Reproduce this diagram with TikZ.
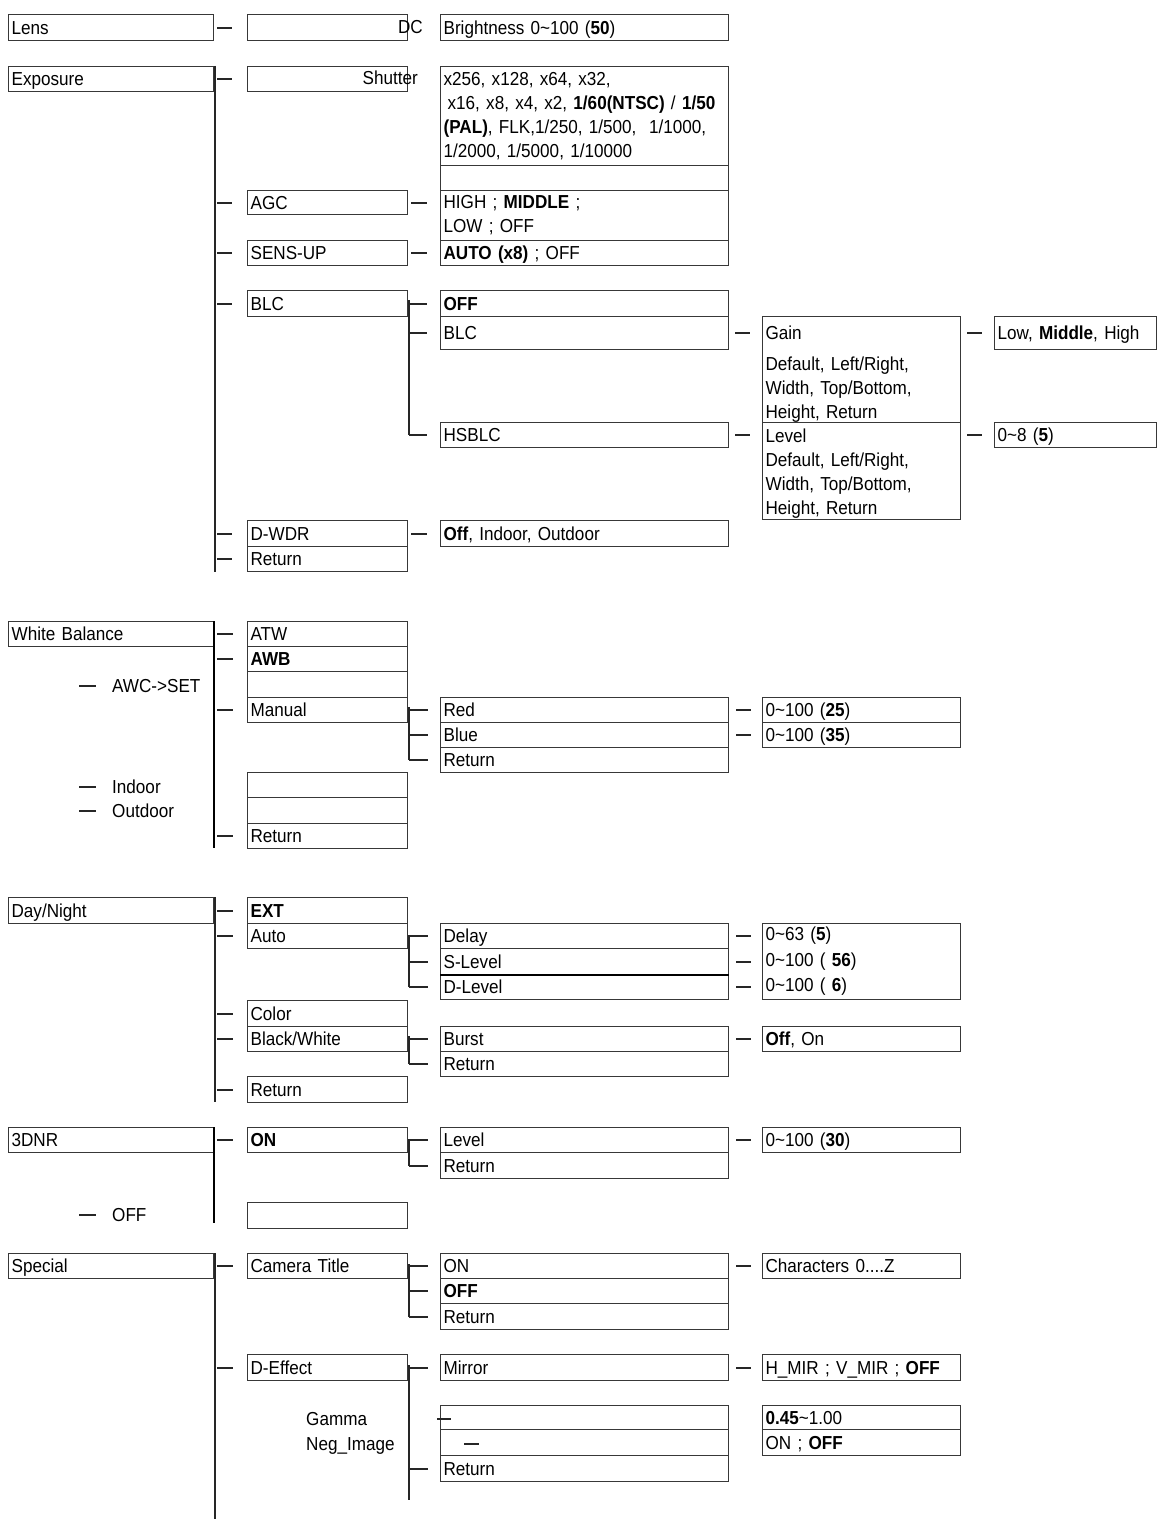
\documentclass[tikz,border=0pt]{standalone}
\usepackage{fontspec}
\setmainfont[FakeStretch=0.91,WordSpace=0.91]{Liberation Sans}
\usetikzlibrary{calc}
\newcommand\fs{\fontsize{18.8}{24}\selectfont}
\tikzset{
  bxs/.style={draw=black!78, line width=1.2pt, inner xsep=3pt, inner ysep=0pt,
    anchor=north west, align=left, font=\fs, text=black},
  one/.style={text height=16.5pt, text depth=3pt},
  ln/.style={draw=black!85, line width=2pt},
  thk/.style={draw=black, line width=2.8pt},
  trk/.style={draw=black!85, line width=1.5pt},
  lbl/.style={inner sep=0pt, font=\fs, text height=16.5pt, text depth=3pt},
}
% single-line box: name, x, y, w, h, text
\newcommand\bx[6]{\node[bxs, one, minimum width=#4pt, minimum height=#5pt,
  text width=\dimexpr#4pt-6pt\relax] (#1) at (#2,#3) {#6};}
% multi-line box
\newcommand\mbx[6]{\node[bxs, minimum width=#4pt, minimum height=#5pt,
  text width=\dimexpr#4pt-6pt\relax] (#1) at (#2,#3) {#6};}
% stub: x1, x2, node giving the y
\newcommand\stubx[3]{\draw[ln] (#1,0 |- #3.west) -- (#2,0 |- #3.west);}
\begin{document}
\begin{tikzpicture}[x=1pt,y=-1pt]
\useasboundingbox[fill=white] (0,0) rectangle (1162,1520);

% ---------------- Lens
\bx{lens}{8}{14}{205}{26}{Lens}
\bx{lensB}{247}{14}{160}{26}{}
\node[lbl,anchor=east] (dc) at (423,27) {DC};
\bx{lensC}{440}{14}{288}{26}{Brightness 0\textasciitilde100 (\textbf{50})}
\stubx{217}{232}{lensB}

% ---------------- Exposure
\bx{expo}{8}{66}{205}{25}{Exposure}
\coordinate (expoEnd) at (215,572);
\draw[trk] (expo.north east -| expoEnd) -- (expoEnd);
\bx{shutB}{247}{66}{160}{25}{}
\node[lbl,anchor=east] (shutT) at (418,78) {Shutter};
\mbx{shutC}{440}{66}{288}{99}{x256, x128, x64, x32,\\\hspace*{4pt}x16, x8, x4, x2, \textbf{1/60(NTSC)} / \textbf{1/50}\\\textbf{(PAL)}, FLK,1/250, 1/500,\ \ 1/1000,\\1/2000, 1/5000, 1/10000}
\bx{shutE}{440}{165}{288}{25}{}
\bx{agcB}{247}{190}{160}{24}{AGC}
\mbx{agcC}{440}{190}{288}{50}{HIGH ; \textbf{MIDDLE} ;\\LOW ; OFF}
\bx{sensB}{247}{240}{160}{25}{SENS-UP}
\bx{sensC}{440}{240}{288}{25}{\textbf{AUTO (x8)} ; OFF}
\stubx{217}{232}{shutB}
\stubx{217}{232}{agcB}
\stubx{217}{232}{sensB}
\stubx{411}{427}{agcB}
\stubx{411}{427}{sensB}

% BLC
\bx{blcB}{247}{290}{160}{26}{BLC}
\bx{offC}{440}{290}{288}{26}{\textbf{OFF}}
\bx{blcC}{440}{316}{288}{33}{BLC}
\bx{hsC}{440}{422}{288}{25}{HSBLC}
\coordinate (blcT) at (409,300);
\draw[trk] (blcT) -- (blcT |- hsC.west);
\stubx{217}{232}{blcB}
\stubx{409}{427}{offC}
\stubx{409}{427}{blcC}
\stubx{409}{427}{hsC}
\mbx{gainD}{762}{316}{198}{106}{\rule{0pt}{23pt}Gain\\[7pt]Default, Left/Right,\\Width, Top/Bottom,\\Height, Return}
\mbx{levD}{762}{422}{198}{97}{\rule{0pt}{19pt}Level\\Default, Left/Right,\\Width, Top/Bottom,\\Height, Return}
\bx{gainE}{994}{316}{162}{33}{Low, \textbf{Middle}, High}
\bx{levE}{994}{422}{162}{25}{0\textasciitilde8 (\textbf{5})}
\stubx{735}{750}{blcC}
\stubx{735}{750}{hsC}
\stubx{967}{982}{gainE}
\stubx{967}{982}{levE}

% D-WDR
\bx{dwdrB}{247}{520}{160}{26}{D-WDR}
\bx{expRet}{247}{546}{160}{25}{Return}
\bx{dwdrC}{440}{520}{288}{26}{\textbf{Off}, Indoor, Outdoor}
\stubx{217}{232}{dwdrB}
\stubx{217}{232}{expRet}
\stubx{411}{427}{dwdrB}

% ---------------- White Balance
\bx{wb}{8}{621}{205}{25}{White Balance}
\coordinate (wbEnd) at (214,848);
\draw[thk] (wb.north east -| wbEnd) -- (wbEnd);
\bx{atw}{247}{621}{160}{25}{ATW}
\bx{awb}{247}{646}{160}{25}{\textbf{AWB}}
\bx{wbE1}{247}{671}{160}{26}{}
\bx{manual}{247}{697}{160}{25}{Manual}
\bx{wbE2}{247}{772}{160}{25}{}
\bx{wbE3}{247}{797}{160}{26}{}
\bx{wbRet}{247}{823}{160}{25}{Return}
\stubx{217}{233}{atw}
\stubx{217}{233}{awb}
\stubx{217}{233}{manual}
\stubx{217}{233}{wbRet}
\node[lbl,anchor=west] (awc) at (112,686) {AWC->SET};
\node[lbl,anchor=west] (indoor) at (112,787) {Indoor};
\node[lbl,anchor=west] (outdoor) at (112,811) {Outdoor};
\draw[ln] ([xshift=-33pt]awc.west) -- ([xshift=-16pt]awc.west);
\draw[ln] ([xshift=-33pt]indoor.west) -- ([xshift=-16pt]indoor.west);
\draw[ln] ([xshift=-33pt]outdoor.west) -- ([xshift=-16pt]outdoor.west);
\bx{red}{440}{697}{288}{25}{Red}
\bx{blue}{440}{722}{288}{25}{Blue}
\bx{wbRetC}{440}{747}{288}{25}{Return}
\coordinate (manT) at (409,707);
\draw[trk] (manT) -- (manT |- wbRetC.west);
\stubx{409}{428}{red}
\stubx{409}{428}{blue}
\stubx{409}{428}{wbRetC}
\bx{redD}{762}{697}{198}{25}{0\textasciitilde100 (\textbf{25})}
\bx{blueD}{762}{722}{198}{25}{0\textasciitilde100 (\textbf{35})}
\stubx{736}{751}{red}
\stubx{736}{751}{blue}

% ---------------- Day/Night
\bx{dn}{8}{897}{205}{26}{Day/Night}
\coordinate (dnEnd) at (215,1102);
\draw[trk] (dn.north east -| dnEnd) -- (dnEnd);
\bx{ext}{247}{897}{160}{26}{\textbf{EXT}}
\bx{auto}{247}{923}{160}{25}{Auto}
\bx{color}{247}{1000}{160}{26}{Color}
\bx{bw}{247}{1026}{160}{25}{Black/White}
\bx{dnRet}{247}{1076}{160}{26}{Return}
\stubx{217}{233}{ext}
\stubx{217}{233}{auto}
\stubx{217}{233}{color}
\stubx{217}{233}{bw}
\stubx{217}{233}{dnRet}
\bx{delay}{440}{923}{288}{25}{Delay}
\bx{slev}{440}{948}{288}{26}{S-Level}
\bx{dlev}{440}{974}{288}{25}{D-Level}
\draw[line width=2.4pt] (slev.south west) -- (slev.south east);
\coordinate (autoT) at (409,935);
\draw[trk] (autoT) -- (autoT |- dlev.west);
\stubx{409}{428}{delay}
\stubx{409}{428}{slev}
\stubx{409}{428}{dlev}
\node[bxs, minimum width=198pt, minimum height=76pt, text width=192pt,
  font=\fontsize{18.8}{25.5}\selectfont] (dnD) at (762,923)
  {0\textasciitilde63 (\textbf{5})\\0\textasciitilde100 ( \textbf{56})\\0\textasciitilde100 ( \textbf{6})};
\stubx{736}{751}{delay}
\stubx{736}{751}{slev}
\stubx{736}{751}{dlev}
\bx{burst}{440}{1026}{288}{25}{Burst}
\bx{bwRet}{440}{1051}{288}{25}{Return}
\coordinate (bwT) at (409,1036);
\draw[trk] (bwT) -- (bwT |- bwRet.west);
\stubx{409}{428}{burst}
\stubx{409}{428}{bwRet}
\bx{burstD}{762}{1026}{198}{25}{\textbf{Off}, On}
\stubx{736}{751}{burst}

% ---------------- 3DNR
\bx{dnr}{8}{1127}{205}{25}{3DNR}
\coordinate (dnrEnd) at (214,1223);
\draw[thk] (dnr.north east -| dnrEnd) -- (dnrEnd);
\bx{on}{247}{1127}{160}{25}{\textbf{ON}}
\bx{dnrE}{247}{1202}{160}{26}{}
\stubx{217}{233}{on}
\node[lbl,anchor=west] (off3) at (112,1215) {OFF};
\draw[ln] ([xshift=-33pt]off3.west) -- ([xshift=-16pt]off3.west);
\bx{dnrLev}{440}{1127}{288}{25}{Level}
\bx{dnrRet}{440}{1152}{288}{26}{Return}
\coordinate (onT) at (409,1139);
\draw[trk] (onT) -- (onT |- dnrRet.west);
\stubx{409}{428}{dnrLev}
\stubx{409}{428}{dnrRet}
\bx{dnrD}{762}{1127}{198}{25}{0\textasciitilde100 (\textbf{30})}
\stubx{736}{751}{dnrLev}

% ---------------- Special
\bx{spec}{8}{1253}{205}{25}{Special}
\coordinate (specEnd) at (215,1519);
\draw[trk] (spec.north east -| specEnd) -- (specEnd);
\bx{ctitle}{247}{1253}{160}{25}{Camera Title}
\bx{deff}{247}{1354}{160}{26}{D-Effect}
\stubx{217}{233}{ctitle}
\stubx{217}{233}{deff}
\bx{ctOn}{440}{1253}{288}{25}{ON}
\bx{ctOff}{440}{1278}{288}{25}{\textbf{OFF}}
\bx{ctRet}{440}{1303}{288}{26}{Return}
\coordinate (ctT) at (409,1264);
\draw[trk] (ctT) -- (ctT |- ctRet.west);
\stubx{409}{428}{ctOn}
\stubx{409}{428}{ctOff}
\stubx{409}{428}{ctRet}
\bx{ctD}{762}{1253}{198}{25}{Characters 0....Z}
\stubx{736}{751}{ctOn}
\bx{mirror}{440}{1354}{288}{26}{Mirror}
\bx{gamC}{440}{1405}{288}{24}{}
\bx{negC}{440}{1429}{288}{26}{}
\bx{defRet}{440}{1455}{288}{26}{Return}
\coordinate (defT) at (409,1365);
\coordinate (defEnd) at (409,1500);
\draw[trk] (defT) -- (defEnd);
\stubx{409}{428}{mirror}
\stubx{409}{428}{defRet}
\draw[ln] (437,1419) -- (451,1419);
\draw[ln] (464,1444) -- (479,1444);
\node[lbl,anchor=west] (gamma) at (306,1419) {Gamma};
\node[lbl,anchor=west] (negimg) at (306,1444) {Neg\_Image};
\bx{mirD}{762}{1354}{198}{26}{H\_MIR ; V\_MIR ; \textbf{OFF}}
\bx{gamD}{762}{1405}{198}{24}{\textbf{0.45}\textasciitilde1.00}
\bx{negD}{762}{1429}{198}{26}{ON ; \textbf{OFF}}
\stubx{736}{751}{mirror}
\end{tikzpicture}
\end{document}
